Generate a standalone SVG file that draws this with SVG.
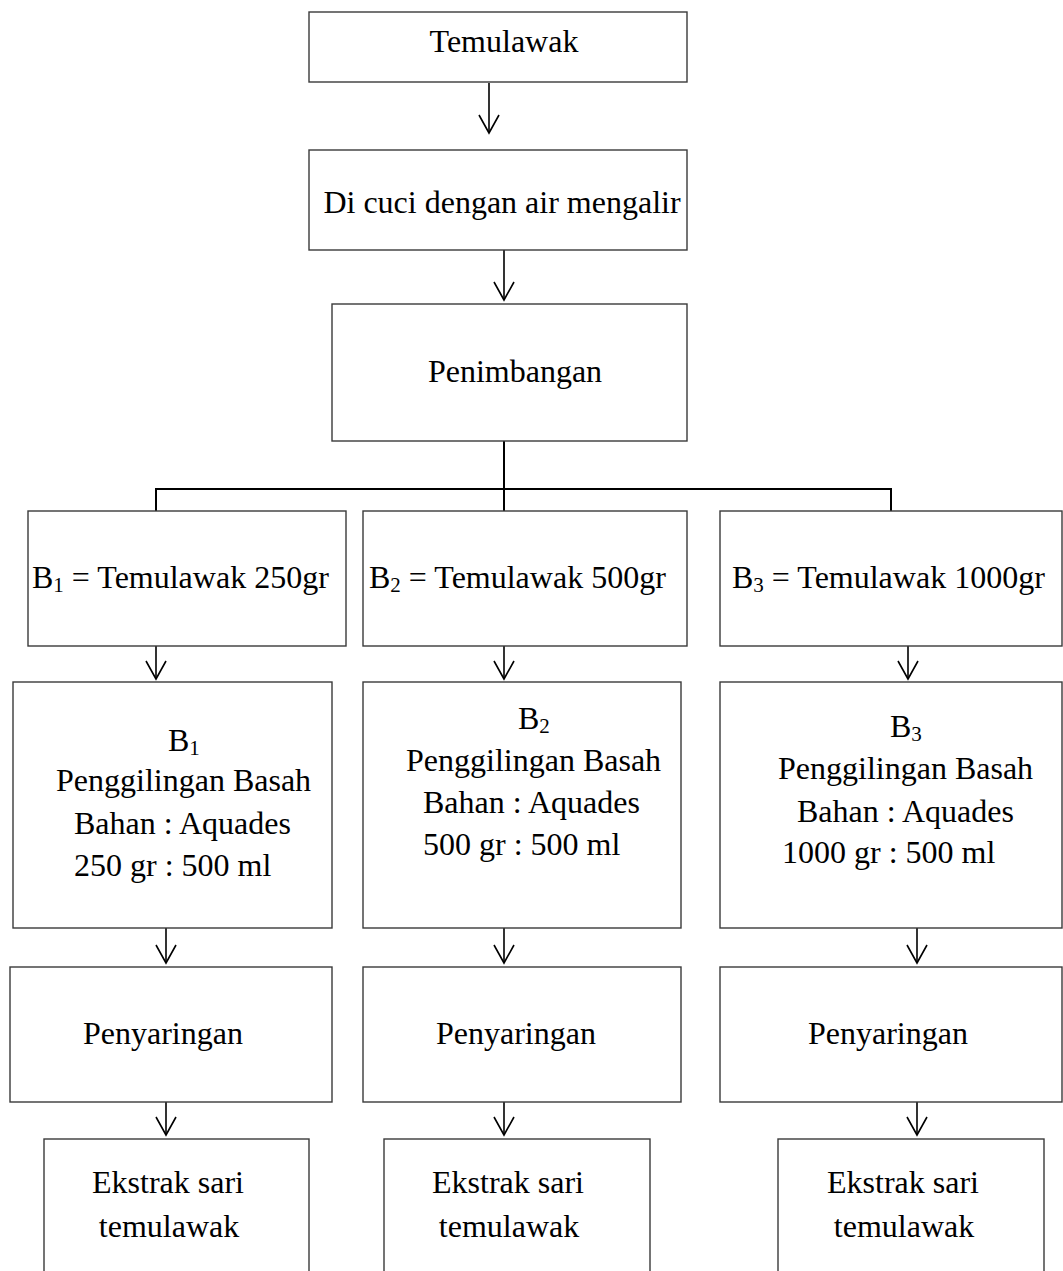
<svg xmlns="http://www.w3.org/2000/svg" width="1063" height="1271" viewBox="0 0 1063 1271">
<style>
  .box { fill: #ffffff; stroke: #3a3a3a; stroke-width: 1.4; }
  .t { font-family: "Liberation Serif", "Times New Roman", serif; font-size: 32px; fill: #000; }
  .c { text-anchor: middle; }
  .sub { font-size: 21px; }
  .conn { fill: none; stroke: #000; stroke-width: 2; }
  .arr { fill: none; stroke: #000; stroke-width: 1.6; marker-end: url(#v); }
</style>
<defs>
  <marker id="v" markerUnits="userSpaceOnUse" viewBox="-20 -12 22 24" refX="0" refY="0" markerWidth="22" markerHeight="24" orient="auto" overflow="visible">
    <path d="M-18,-10 L0,0 L-18,10" fill="none" stroke="#000" stroke-width="1.6"/>
  </marker>
</defs>
<rect width="1063" height="1271" fill="#ffffff"/>

<g id="connectors">
  <line class="arr" x1="489" y1="83" x2="489" y2="133"/>
  <line class="arr" x1="504" y1="250" x2="504" y2="300"/>
  <path class="conn" d="M504,441 V511 M156,489 H891 M156,488 V511 M891,488 V511"/>
  <line class="arr" x1="156" y1="646" x2="156" y2="679"/>
  <line class="arr" x1="504" y1="646" x2="504" y2="679"/>
  <line class="arr" x1="908" y1="646" x2="908" y2="679"/>
  <line class="arr" x1="166" y1="928" x2="166" y2="963"/>
  <line class="arr" x1="504" y1="928" x2="504" y2="963"/>
  <line class="arr" x1="917" y1="928" x2="917" y2="963"/>
  <line class="arr" x1="166" y1="1102" x2="166" y2="1135"/>
  <line class="arr" x1="504" y1="1102" x2="504" y2="1135"/>
  <line class="arr" x1="917" y1="1102" x2="917" y2="1135"/>
</g>

<g id="temulawak">
  <rect class="box" x="309" y="12" width="378" height="70"/>
  <text class="t c" x="504" y="52">Temulawak</text>
</g>
<g id="cuci">
  <rect class="box" x="309" y="150" width="378" height="100"/>
  <text class="t c" x="502" y="213">Di cuci dengan air mengalir</text>
</g>
<g id="penimbangan">
  <rect class="box" x="332" y="304" width="355" height="137"/>
  <text class="t c" x="515" y="382">Penimbangan</text>
</g>

<g id="b1">
  <rect class="box" x="28" y="511" width="318" height="135"/>
  <text class="t" x="32" y="588">B<tspan class="sub" dy="4">1</tspan><tspan dy="-4"> = Temulawak 250gr</tspan></text>
</g>
<g id="b2">
  <rect class="box" x="363" y="511" width="324" height="135"/>
  <text class="t" x="369" y="588">B<tspan class="sub" dy="4">2</tspan><tspan dy="-4"> = Temulawak 500gr</tspan></text>
</g>
<g id="b3">
  <rect class="box" x="720" y="511" width="342" height="135"/>
  <text class="t" x="732" y="588">B<tspan class="sub" dy="4">3</tspan><tspan dy="-4"> = Temulawak 1000gr</tspan></text>
</g>

<g id="giling1">
  <rect class="box" x="13" y="682" width="319" height="246"/>
  <text class="t" x="168" y="751">B<tspan class="sub" dy="4">1</tspan></text>
  <text class="t" x="56" y="791">Penggilingan Basah</text>
  <text class="t" x="74" y="834">Bahan : Aquades</text>
  <text class="t" x="74" y="876">250 gr : 500 ml</text>
</g>
<g id="giling2">
  <rect class="box" x="363" y="682" width="318" height="246"/>
  <text class="t" x="518" y="729">B<tspan class="sub" dy="4">2</tspan></text>
  <text class="t" x="406" y="771">Penggilingan Basah</text>
  <text class="t" x="423" y="813">Bahan : Aquades</text>
  <text class="t" x="423" y="855">500 gr : 500 ml</text>
</g>
<g id="giling3">
  <rect class="box" x="720" y="682" width="342" height="246"/>
  <text class="t" x="890" y="737">B<tspan class="sub" dy="4">3</tspan></text>
  <text class="t" x="778" y="779">Penggilingan Basah</text>
  <text class="t" x="797" y="822">Bahan : Aquades</text>
  <text class="t" x="782" y="863">1000 gr : 500 ml</text>
</g>

<g id="saring1">
  <rect class="box" x="10" y="967" width="322" height="135"/>
  <text class="t" x="83" y="1044">Penyaringan</text>
</g>
<g id="saring2">
  <rect class="box" x="363" y="967" width="318" height="135"/>
  <text class="t" x="436" y="1044">Penyaringan</text>
</g>
<g id="saring3">
  <rect class="box" x="720" y="967" width="342" height="135"/>
  <text class="t" x="808" y="1044">Penyaringan</text>
</g>

<g id="ekstrak1">
  <rect class="box" x="44" y="1139" width="265" height="150"/>
  <text class="t c" x="168" y="1193">Ekstrak sari</text>
  <text class="t c" x="169" y="1237">temulawak</text>
</g>
<g id="ekstrak2">
  <rect class="box" x="384" y="1139" width="266" height="150"/>
  <text class="t c" x="508" y="1193">Ekstrak sari</text>
  <text class="t c" x="509" y="1237">temulawak</text>
</g>
<g id="ekstrak3">
  <rect class="box" x="778" y="1139" width="266" height="150"/>
  <text class="t c" x="903" y="1193">Ekstrak sari</text>
  <text class="t c" x="904" y="1237">temulawak</text>
</g>
</svg>
